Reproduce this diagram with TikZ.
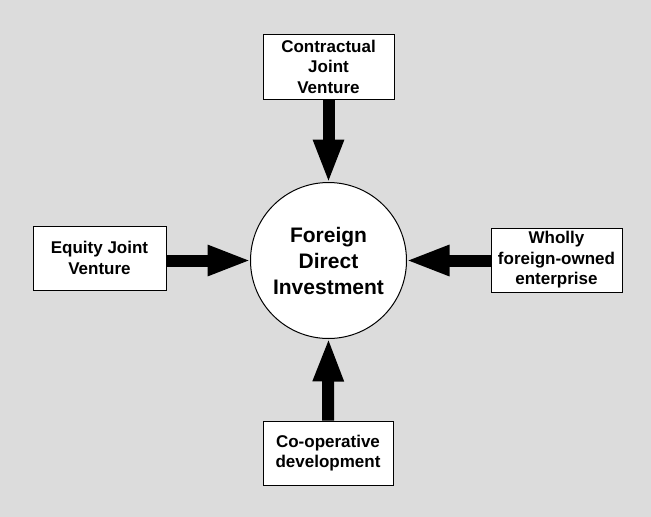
\documentclass[tikz,border=0pt]{standalone}
\usepackage{fontspec}
\setmainfont{Liberation Sans}
\usetikzlibrary{arrows.meta}
\definecolor{bg}{HTML}{DCDCDC}
\begin{document}
\begin{tikzpicture}[x=1pt,y=-1pt,
  box/.style={draw=black,line width=0.9pt,fill=white,align=center,
    font=\fontsize{17}{20.5}\selectfont\bfseries,inner sep=0pt},
  hub/.style={circle,draw=black,line width=1pt,fill=white,minimum size=156pt,
    align=center,inner sep=0pt,outer sep=0pt,font=\fontsize{21}{26}\selectfont\bfseries},
  bigarrow/.style={line width=12pt,shorten >=-1pt,-{Triangle[length=44pt,width=28pt]}}]
\fill[bg] (0,0) rectangle (651,517);
\useasboundingbox (0,0) rectangle (651,517);
\node[hub] (fdi) at (328.5,260.5) {Foreign\\Direct\\Investment};
\node[box,minimum width=131pt,minimum height=65pt] (top) at (328.5,66.5) {Contractual\\Joint\\Venture};
\node[box,minimum width=133pt,minimum height=64pt] (left) at (99.5,258) {Equity Joint\\Venture};
\node[box,minimum width=131pt,minimum height=64pt] (right) at (556.5,260) {Wholly\\foreign-owned\\enterprise};
\node[box,minimum width=130pt,minimum height=64pt] (bottom) at (328,453) {Co-operative\\development};
\draw[bigarrow] (top.south) -- (fdi.north);
\draw[bigarrow] (bottom.north) -- (fdi.south);
\draw[bigarrow] (left.east |- fdi.west) -- (fdi.west);
\draw[bigarrow] (right.west |- fdi.east) -- (fdi.east);
\end{tikzpicture}
\end{document}
